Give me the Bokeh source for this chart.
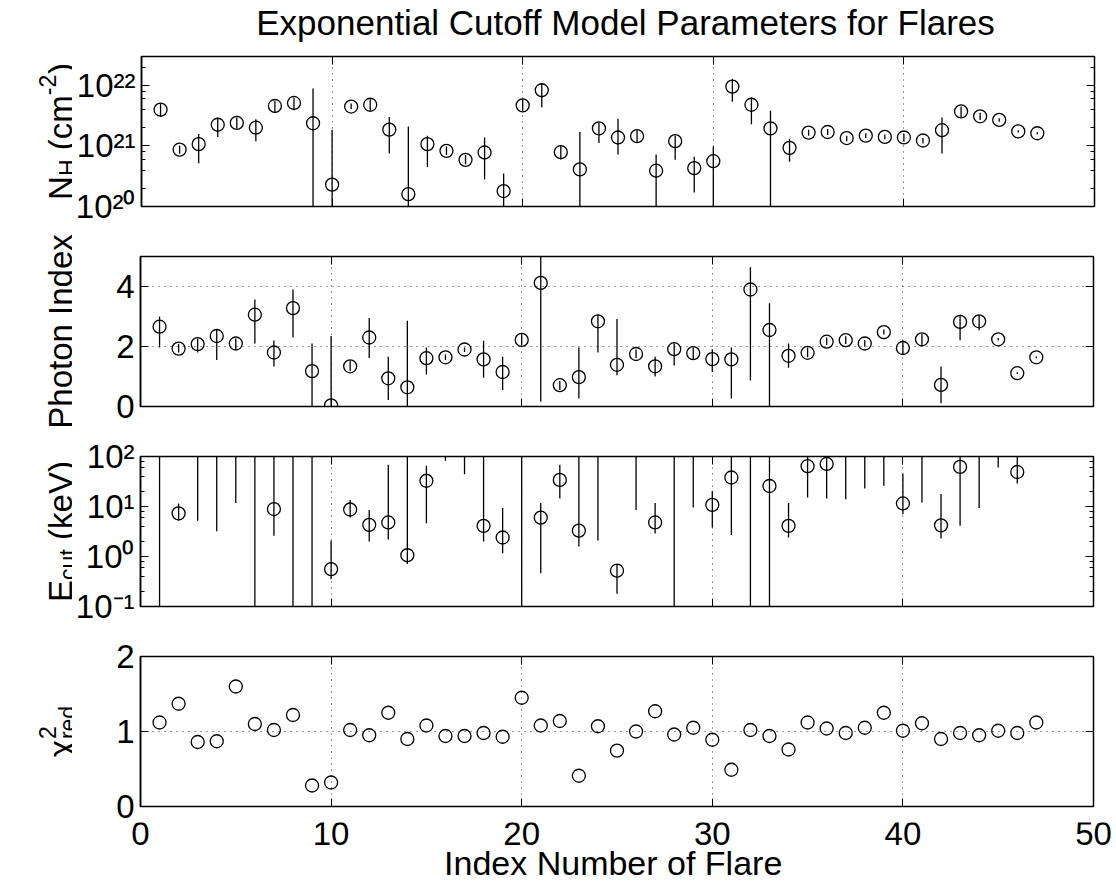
import numpy as np
from math import pi
from bokeh.plotting import figure
from bokeh.layouts import column, row
from bokeh.models import (ColumnDataSource, Range1d, Label, FixedTicker, LogTicker,
                          LinearAxis, LogAxis, CustomJSTickFormatter)
from bokeh.core.properties import value
from bokeh.embed import file_html
from bokeh.resources import INLINE

nan = float("nan")

# ---------------- data ----------------
flare = list(range(1, 48))

# N_H in units of 1e21 cm^-2
nh = [3.98, 0.87, 1.07, 2.24, 2.40, 2.00, 4.57, 5.13, 2.37, 0.23,
      4.47, 4.79, 1.86, 0.16, 1.07, 0.83, 0.59, 0.78, 0.18, 4.68,
      8.32, 0.79, 0.41, 1.95, 1.38, 1.45, 0.39, 1.20, 0.43, 0.56,
      9.55, 4.79, 1.95, 0.93, 1.66, 1.70, 1.35, 1.48, 1.41, 1.38,
      1.23, 1.82, 3.72, 3.09, 2.69, 1.74, 1.62]
nh_lo = [3.02, 0.74, 0.52, 1.41, 1.95, 1.20, 3.55, 3.89, 0.01, 0.01,
         4.07, 3.80, 0.75, 0.01, 0.45, 0.71, 0.50, 0.28, 0.01, 3.80,
         4.37, 0.60, 0.01, 1.12, 0.72, 1.15, 0.01, 0.59, 0.17, 0.01,
         5.37, 2.29, 0.01, 0.55, 1.48, 1.51, 1.20, 1.35, 1.29, 1.17,
         1.10, 0.75, 3.02, 2.69, 2.51, 1.66, 1.55]
nh_hi = [5.01, 1.02, 1.58, 2.95, 2.95, 2.75, 5.50, 6.31, 8.91, 1.86,
         5.01, 5.89, 3.02, 2.09, 1.48, 0.98, 0.71, 1.38, 0.35, 5.89,
         10.96, 1.02, 1.70, 2.45, 2.82, 1.82, 0.72, 1.48, 0.66, 0.98,
         12.88, 6.31, 3.80, 1.32, 1.86, 1.91, 1.48, 1.62, 1.55, 1.58,
         1.35, 2.95, 4.47, 3.55, 2.88, 1.82, 1.70]

gamma = [2.66, 1.93, 2.08, 2.35, 2.10, 3.06, 1.80, 3.28, 1.18, 0.04,
         1.34, 2.30, 0.94, 0.64, 1.61, 1.64, 1.90, 1.57, 1.15, 2.22,
         4.12, 0.71, 0.98, 2.84, 1.39, 1.75, 1.34, 1.91, 1.78, 1.58,
         1.57, 3.90, 2.55, 1.69, 1.79, 2.16, 2.21, 2.10, 2.48, 1.95,
         2.24, 0.72, 2.82, 2.84, 2.24, 1.11, 1.64]
gamma_lo = [1.97, 1.80, 1.80, 1.55, 1.88, 2.10, 1.33, 2.30, -0.5, -0.5,
            1.18, 1.62, 0.22, -0.5, 1.07, 1.55, 1.82, 0.96, 0.55, 2.05,
            0.16, 0.55, 0.27, 1.80, 1.04, 1.62, 1.00, 1.37, 1.55, 1.15,
            0.27, 0.87, -0.5, 1.29, 1.64, 2.05, 2.08, 1.99, 2.40, 1.75,
            2.00, 0.11, 2.21, 2.54, 2.20, 1.08, 1.61]
gamma_hi = [3.00, 2.08, 2.27, 2.57, 2.27, 3.57, 2.20, 3.90, 2.10, 2.35,
            1.53, 2.95, 1.66, 2.86, 1.97, 1.73, 1.97, 2.19, 1.66, 2.40,
            5.50, 0.85, 1.97, 3.06, 2.92, 1.90, 1.66, 2.10, 1.97, 1.91,
            1.97, 4.64, 3.44, 2.10, 1.97, 2.30, 2.34, 2.22, 2.57, 2.21,
            2.42, 1.33, 3.02, 3.04, 2.28, 1.14, 1.67]

# E_cut in keV (nan = best fit off the plotted range)
ecut = [nan, 7.3, nan, nan, nan, nan, 8.9, nan, nan, 0.56,
        8.7, 4.3, 4.8, 1.06, 32.7, nan, nan, 4.1, 2.4, nan,
        6.0, 34.0, 3.3, nan, 0.52, nan, 4.8, nan, nan, 10.8,
        38.0, nan, 25.7, 4.1, 64.0, 71.0, nan, nan, nan, 11.5,
        nan, 4.2, 62.0, nan, nan, 49.0, nan]
ecut_lo = [0.01, 5.2, 5.2, 3.2, 11.7, 0.01, 2.6, 0.01, 0.01, 0.35,
           6.0, 2.0, 2.2, 0.71, 4.6, 82.0, 44.0, 2.0, 1.16, 0.01,
           0.46, 14.5, 1.58, 2.1, 0.18, 8.5, 2.9, 0.01, 9.6, 3.8,
           2.7, 0.01, 0.01, 2.4, 15.2, 14.5, 14.0, 23.0, 26.0, 7.0,
           12.0, 2.3, 4.1, 9.3, 60.0, 29.0, nan]
ecut_hi = [1000, 11.5, 1000, 1000, 1000, 1000, 1000, 1000, 1000, 2.1,
           13.5, 8.5, 68.0, 1000, 65.0, 1000, 1000, 1000, 9.3, 1000,
           11.7, 68.0, 1000, 1000, 0.71, 1000, 11.7, 1000, 1000, 20.5,
           1000, 1000, 1000, 11.7, 1000, 1000, 1000, 1000, 1000, 45.0,
           1000, 17.8, 1000, 1000, 1000, 1000, nan]

chi2 = [1.12, 1.37, 0.86, 0.87, 1.60, 1.10, 1.02, 1.22, 0.28, 0.32,
        1.02, 0.95, 1.25, 0.90, 1.08, 0.94, 0.94, 0.98, 0.93, 1.45,
        1.08, 1.14, 0.41, 1.07, 0.745, 1.00, 1.27, 0.96, 1.05, 0.89,
        0.49, 1.02, 0.94, 0.76, 1.12, 1.04, 0.98, 1.05, 1.25, 1.01,
        1.11, 0.90, 0.98, 0.95, 1.01, 0.98, 1.12]

x_ticks = [0, 10, 20, 30, 40, 50]
x_tick_labels = ["0", "10", "20", "30", "40", "50"]
title_text = "Exponential Cutoff Model Parameters for Flares"
xlabel_text = "Index Number of Flare"

# ---------------- styling / geometry ----------------
FONT = "Liberation Sans"
FS = 33
PAGE_H = 886
LAB_W = 72          # width of the strip that carries the y labels
LEFT = 140 - LAB_W  # remaining left border of each panel
FRAME_W = 953
X0, X1 = 0, 50
RIGHT = 18
TOTAL_W = 140 + FRAME_W + RIGHT

SUP_JS = """
const sup = {"0":"\u2070","1":"\u00b9","2":"\u00b2","3":"\u00b3","4":"\u2074",
             "5":"\u2075","6":"\u2076","7":"\u2077","8":"\u2078","9":"\u2079","-":"\u207b"};
const e = Math.round(Math.log10(tick));
return "10" + String(e).split("").map(c => sup[c]).join("");
"""

CW = {'N': .722, 'H': .722, ' ': .278, '(': .333, ')': .333, 'c': .5, 'm': .833,
      '-': .333, '2': .556, 'E': .667, 'u': .556, 't': .278, 'k': .5, 'e': .556,
      'V': .667, 'χ': .55, 'r': .333, 'd': .556, 'P': .667, 'h': .556, 'o': .556,
      'n': .556, 'I': .278, 'x': .5}


def tw(s):
    return sum(CW.get(ch, .556) for ch in s)


def style_ticks(ax):
    ax.major_tick_in = 8
    ax.major_tick_out = 0
    ax.minor_tick_in = 4
    ax.minor_tick_out = 0
    ax.major_tick_line_color = "black"
    ax.minor_tick_line_color = "black"


def tick_only(ax):
    """axis that shows only inward tick marks (labels not drawn)"""
    style_ticks(ax)
    ax.major_label_text_font_size = "1px"
    ax.major_label_text_color = None
    ax.major_label_standoff = 0
    ax.axis_line_color = None
    return ax


def make_fig(yscale, yr, yticks, top, bottom):
    p = figure(frame_width=FRAME_W, frame_height=150, x_range=Range1d(X0, X1),
               y_range=yr, y_axis_type=yscale, output_backend="svg",
               toolbar_location=None, min_border_left=LEFT, min_border_right=RIGHT,
               min_border_top=top, min_border_bottom=bottom,
               background_fill_color="white", border_fill_color="white")
    p.outline_line_color = "black"
    p.outline_line_width = 1.5
    xt = FixedTicker(ticks=x_ticks)
    p.xgrid.ticker = xt
    p.xgrid.grid_line_color = "black"
    p.xgrid.grid_line_dash = "1 5"
    p.xgrid.grid_line_alpha = 0.8

    yax = p.yaxis[0]
    yax.axis_line_color = "black"
    yax.axis_line_width = 1.5
    yax.major_label_text_font = FONT
    yax.major_label_text_font_size = f"{FS}px"
    yax.major_label_text_color = "black"
    yax.major_label_standoff = 6
    style_ticks(yax)
    if yscale == "log":
        yax.ticker = LogTicker()
        yax.formatter = CustomJSTickFormatter(code=SUP_JS)
        p.ygrid.visible = False
        rax = LogAxis(ticker=LogTicker())
    else:
        yt = FixedTicker(ticks=yticks)
        yax.ticker = yt
        p.ygrid.ticker = yt
        yax.minor_tick_in = 0
        p.ygrid.grid_line_color = "black"
        p.ygrid.grid_line_dash = "1 5"
        p.ygrid.grid_line_alpha = 0.8
        rax = LinearAxis(ticker=FixedTicker(ticks=yticks))

    xax = p.xaxis[0]
    xax.ticker = xt
    tick_only(xax)
    tick_only(rax)
    if yscale != "log":
        rax.minor_tick_in = 0
    p.add_layout(rax, "right")
    p.add_layout(tick_only(LinearAxis(ticker=FixedTicker(ticks=x_ticks))), "above")
    return p


def text_fig(w, h, xr=None):
    f = figure(width=w, height=h, x_range=xr if xr is not None else Range1d(0, w),
               y_range=Range1d(0, h),
               output_backend="svg", toolbar_location=None,
               min_border=0, min_border_left=0, min_border_right=0,
               min_border_top=0, min_border_bottom=0, frame_align=False,
               background_fill_color="white", border_fill_color="white")
    f.axis.visible = False
    f.grid.visible = False
    f.outline_line_color = None
    return f


def add_errbars(p, x, y, lo, hi):
    src = ColumnDataSource(dict(x=np.array(x, float), y=np.array(y, float),
                                lo=np.array(lo, float), hi=np.array(hi, float)))
    p.segment(x0="x", y0="lo", x1="x", y1="hi", source=src,
              line_color="black", line_width=1.3)
    p.scatter("x", "y", source=src, marker="circle", size=13,
              fill_color=None, line_color="black", line_width=1.3)


def ylabel_strip(h, yc, pieces, F=FS, base_x=60):
    """Rotated composite label (with sub/superscripts) drawn in a narrow strip.
    pieces: (text, scale, shift, stacked, gap_before_em)"""
    f = text_fig(LAB_W, h)
    adv = [tw(t) * s * F for t, s, sh, st, g in pieces]
    groups, i, total = [], 0, 0.0
    while i < len(pieces):
        g = pieces[i][4] * F
        if i + 1 < len(pieces) and pieces[i + 1][3]:
            w = max(adv[i], adv[i + 1])
            groups.append(([i, i + 1], w, g))
            i += 2
        else:
            w = adv[i]
            groups.append(([i], w, g))
            i += 1
        total += w + g
    pos = yc - total / 2.0
    for idxs, w, g in groups:
        pos += g
        for j in idxs:
            text, s, shift, _, _ = pieces[j]
            dx = 0.24 * F if shift == "sub" else (-0.40 * F if shift == "sup" else 0)
            f.add_layout(Label(x=base_x + dx, y=pos, text=text, angle=pi / 2,
                               text_align="left", text_baseline="alphabetic",
                               text_font=FONT, text_font_size=f"{round(s * F)}px",
                               text_color="black"))
        pos += w
    return f


# ---------------- title ----------------
TITLE_H = 50
t_fig = text_fig(TOTAL_W, TITLE_H)
t_fig.add_layout(Label(x=625, y=TITLE_H - 22, text=title_text, text_align="center",
                       text_baseline="middle", text_font=FONT,
                       text_font_size="35px", text_color="black"))

# ---------------- panels ----------------
T1, B1 = 6, 25
p1 = make_fig("log", Range1d(1e20, 3e22), None, T1, B1)
add_errbars(p1, flare, np.array(nh) * 1e21, np.array(nh_lo) * 1e21, np.array(nh_hi) * 1e21)
l1 = ylabel_strip(T1 + 150 + B1, B1 + 75,
                  [("N", 1, 0, False, 0), ("H", 0.7, "sub", False, 0),
                   ("(cm", 1, 0, False, 0.278), ("-2", 0.7, "sup", False, 0),
                   (")", 1, 0, False, 0.02)])

p2 = make_fig("linear", Range1d(0, 5), [0, 2, 4], 25, 25)
add_errbars(p2, flare, gamma, gamma_lo, gamma_hi)
l2 = ylabel_strip(200, 100, [("Photon Index", 1, 0, False, 0)])

p3 = make_fig("log", Range1d(0.1, 100), None, 25, 25)
add_errbars(p3, flare, ecut, ecut_lo, ecut_hi)
l3 = ylabel_strip(200, 100, [("E", 1, 0, False, 0), ("cut", 0.7, "sub", False, 0),
                             ("(keV)", 1, 0, False, 0.278)])

B4 = 16
p4 = make_fig("linear", Range1d(0, 2), [0, 1, 2], 25, B4)
src4 = ColumnDataSource(dict(x=flare, y=chi2))
p4.scatter("x", "y", source=src4, marker="circle", size=13, fill_color=None,
           line_color="black", line_width=1.3)
l4 = ylabel_strip(25 + 150 + B4, B4 + 75,
                  [("χ", 1, 0, False, 0), ("2", 0.7, "sup", False, 0),
                   ("red", 0.7, "sub", True, 0)])

# ---------------- x tick labels + x label (strip under the last panel) ----------------
XTOP = TITLE_H + (T1 + 150 + B1) + 200 + 200 + (25 + 150 + B4)   # page y of strip top
XL_H = PAGE_H - XTOP
px_per_unit = FRAME_W / (X1 - X0)
x_fig = text_fig(TOTAL_W, XL_H,
                 xr=Range1d(X0 - 140 / px_per_unit, X1 + RIGHT / px_per_unit))
# vertical centres of the texts on the page: tick labels ~833, axis title ~862
x_fig.text(x=x_ticks, y=PAGE_H - 833, text=x_tick_labels, text_align="center",
           text_baseline="middle", text_font=value(FONT),
           text_font_size=value(f"{FS}px"), text_color="black")
x_fig.add_layout(Label(x=(X0 + X1) / 2 - 0.2, y=PAGE_H - 862, text=xlabel_text,
                       text_align="center", text_baseline="middle", text_font=FONT,
                       text_font_size="34px", text_color="black"))

layout = column(t_fig,
                row(l1, p1, spacing=0),
                row(l2, p2, spacing=0),
                row(l3, p3, spacing=0),
                row(l4, p4, spacing=0),
                x_fig, spacing=0)
open("out.html", "w").write(file_html(layout, INLINE, title="Exponential Cutoff Model"))
